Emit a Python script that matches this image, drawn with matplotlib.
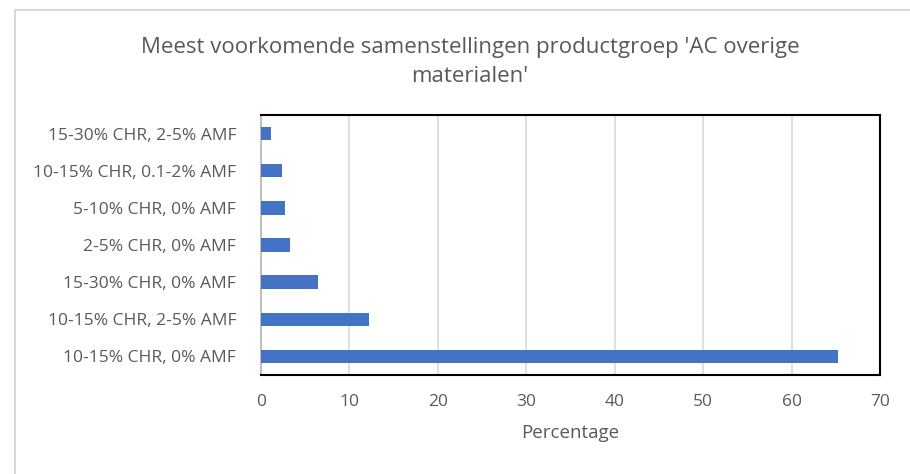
import matplotlib.pyplot as plt
from matplotlib.patches import Rectangle

# Chart data (bottom to top)
categories = ['10-15% CHR, 0% AMF', '10-15% CHR, 2-5% AMF', '15-30% CHR, 0% AMF',
              '2-5% CHR, 0% AMF', '5-10% CHR, 0% AMF', '10-15% CHR, 0.1-2% AMF',
              '15-30% CHR, 2-5% AMF']
percentages = [65.3, 12.2, 6.5, 3.3, 2.7, 2.4, 1.1]
x_ticks = [0, 10, 20, 30, 40, 50, 60, 70]

bar_blue = '#4472C4'
text_gray = '#595959'
grid_gray = '#D9D9D9'

plt.rcParams['font.family'] = ['Open Sans', 'DejaVu Sans']

fig = plt.figure(figsize=(9.1, 4.74), dpi=100)
fig.patch.set_facecolor('white')

# Outer chart border
fig.patches.append(Rectangle((15 / 910, -0.01), 1.0, 1 - 10 / 474 + 0.01, transform=fig.transFigure,
                             fill=False, edgecolor='#D0D0D0', linewidth=1.2))

ax = fig.add_axes([261 / 910, 1 - 375 / 474, 619 / 910, 260 / 474])

ax.barh(range(len(categories)), percentages, height=0.36, color=bar_blue, zorder=3)

ax.set_xlim(0, 70)
ax.set_ylim(-0.5, len(categories) - 0.5)
ax.set_xticks(x_ticks)
ax.set_yticks(range(len(categories)))
ax.set_yticklabels(categories)
ax.tick_params(axis='both', length=0, colors=text_gray, labelsize=12.5)
ax.tick_params(axis='x', pad=14)
ax.tick_params(axis='y', pad=18)

# Vertical grid lines
ax.grid(True, axis='x', color=grid_gray, linewidth=1.2, zorder=0)

for side in ['top', 'right', 'bottom']:
    ax.spines[side].set_color('black')
    ax.spines[side].set_linewidth(1.5)
ax.spines['left'].set_color('#BFBFBF')
ax.spines['left'].set_linewidth(1.5)

ax.set_xlabel('Percentage', color=text_gray, fontsize=13.5, labelpad=10)

fig.text(470 / 910, 1 - 62 / 474,
         "Meest voorkomende samenstellingen productgroep 'AC overige\nmaterialen'",
         ha='center', va='center', color=text_gray, fontsize=16, linespacing=1.45)

fig.savefig('out.png', dpi=100)
